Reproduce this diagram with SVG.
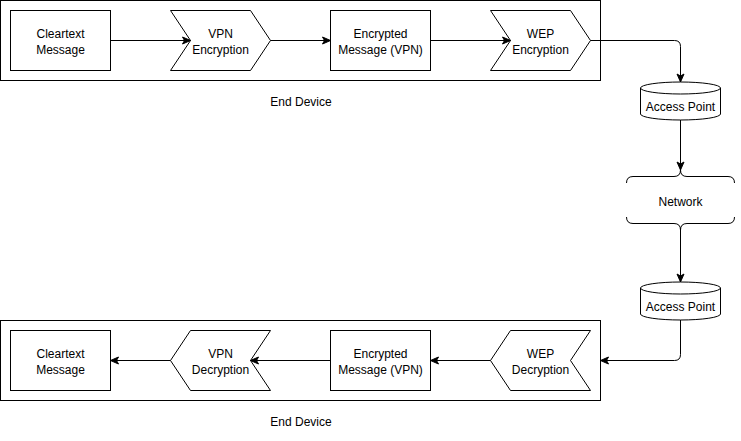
<svg xmlns="http://www.w3.org/2000/svg" width="741" height="441" viewBox="0 0 741 441">
<style>
.s{fill:#fff;stroke:#000;stroke-width:1}
.c{fill:none;stroke:#000;stroke-width:1}
.t{font-family:"Liberation Sans",Arial,Helvetica,sans-serif;font-size:12px;fill:#000;text-anchor:middle}
.e{fill:none;stroke:#000;stroke-width:1;marker-end:url(#arr)}
</style>
<defs>
<marker id="arr" markerUnits="userSpaceOnUse" markerWidth="9" markerHeight="8" refX="8" refY="3.5" orient="auto" overflow="visible">
<path d="M0,0 L8,3.5 L0,7 L2,3.5 Z" fill="#000" stroke="#000" stroke-width="1"/>
</marker>
</defs>
<rect width="741" height="441" fill="#fff"/>
<g id="container-top"><rect class="s" x="0.5" y="0.5" width="600" height="80"/><text class="t" x="301" y="106">End Device</text></g>
<g id="container-bottom"><rect class="s" x="0.5" y="320.5" width="600" height="80"/><text class="t" x="301" y="426">End Device</text></g>
<g id="clear-top"><rect class="s" x="10.5" y="10.5" width="100" height="60"/><text class="t" x="60.5" y="38">Cleartext</text><text class="t" x="60.5" y="54">Message</text></g>
<g id="vpn-enc"><path class="s" d="M170.5,10.5 H250.5 L270.5,40.5 L250.5,70.5 H170.5 L190.5,40.5 Z"/><text class="t" x="220.5" y="38">VPN</text><text class="t" x="220.5" y="54">Encryption</text></g>
<g id="enc-top"><rect class="s" x="330.5" y="10.5" width="100" height="60"/><text class="t" x="380.5" y="38">Encrypted</text><text class="t" x="380.5" y="54">Message (VPN)</text></g>
<g id="wep-enc"><path class="s" d="M490.5,10.5 H570.5 L590.5,40.5 L570.5,70.5 H490.5 L510.5,40.5 Z"/><text class="t" x="540.5" y="38">WEP</text><text class="t" x="540.5" y="54">Encryption</text></g>
<g id="ap1"><path class="s" d="M640.5,88 A40,6 0 0 1 720.5,88 V114 A40,6 0 0 1 640.5,114 Z"/><path class="c" d="M640.5,88 A40,6 0 0 0 720.5,88"/><text class="t" x="680.5" y="111">Access Point</text></g>
<g id="network"><path class="c" d="M626.5,183 Q626.5,176.5 633,176.5 H674 Q680.5,176.5 680.5,170 Q680.5,176.5 687,176.5 H728 Q734.5,176.5 734.5,183"/><path class="c" d="M626.5,217 Q626.5,223.5 633,223.5 H674 Q680.5,223.5 680.5,230 Q680.5,223.5 687,223.5 H728 Q734.5,223.5 734.5,217"/><text class="t" x="680.5" y="206">Network</text></g>
<g id="ap2"><path class="s" d="M640.5,288 A40,6 0 0 1 720.5,288 V314 A40,6 0 0 1 640.5,314 Z"/><path class="c" d="M640.5,288 A40,6 0 0 0 720.5,288"/><text class="t" x="680.5" y="311">Access Point</text></g>
<g id="wep-dec"><path class="s" d="M510.5,330.5 H590.5 L570.5,360.5 L590.5,390.5 H510.5 L490.5,360.5 Z"/><text class="t" x="540.5" y="358">WEP</text><text class="t" x="540.5" y="374">Decryption</text></g>
<g id="enc-bottom"><rect class="s" x="330.5" y="330.5" width="100" height="60"/><text class="t" x="380.5" y="358">Encrypted</text><text class="t" x="380.5" y="374">Message (VPN)</text></g>
<g id="vpn-dec"><path class="s" d="M190.5,330.5 H270.5 L250.5,360.5 L270.5,390.5 H190.5 L170.5,360.5 Z"/><text class="t" x="220.5" y="358">VPN</text><text class="t" x="220.5" y="374">Decryption</text></g>
<g id="clear-bottom"><rect class="s" x="10.5" y="330.5" width="100" height="60"/><text class="t" x="60.5" y="358">Cleartext</text><text class="t" x="60.5" y="374">Message</text></g>
<g id="connectors">
<path class="e" d="M110.5,40.5 H190.5"/>
<path class="e" d="M270.5,40.5 H330.5"/>
<path class="e" d="M430.5,40.5 H510.5"/>
<path class="e" d="M590.5,40.5 H674.5 Q680.5,40.5 680.5,46.5 V82"/>
<path class="e" d="M680.5,120 V170"/>
<path class="e" d="M680.5,230 V282"/>
<path class="e" d="M680.5,320 V354.5 Q680.5,360.5 674.5,360.5 H600.5"/>
<path class="e" d="M490.5,360.5 H430.5"/>
<path class="e" d="M330.5,360.5 H250.5"/>
<path class="e" d="M170.5,360.5 H110.5"/>
</g>
</svg>
